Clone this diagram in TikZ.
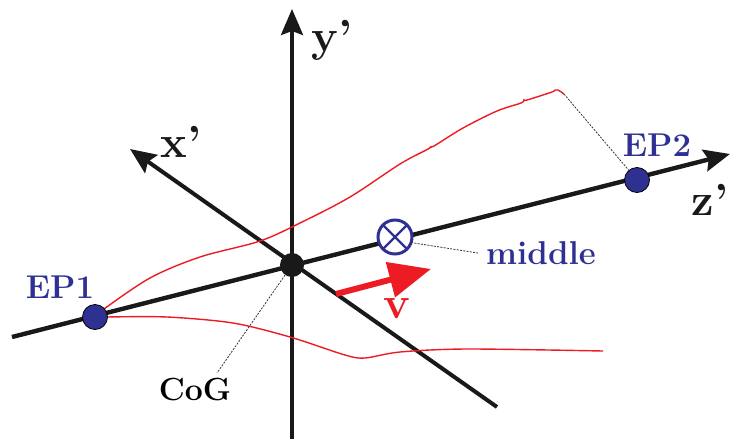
\documentclass[tikz,border=0pt]{standalone}
\usetikzlibrary{arrows.meta}
\definecolor{epblue}{HTML}{2E3192}
\definecolor{vred}{HTML}{ED1C24}
\tikzset{
  axis/.style={line width=4pt, draw=black!90},
  axtip/.style={-{Stealth[length=26pt,width=22pt,inset=4pt]}},
  redc/.style={draw=vred, line width=1.4pt},
  dotline/.style={draw=black!80, line width=0.8pt, dash pattern=on 2pt off 1.3pt},
  epdot/.style={circle, fill=epblue, draw=black, line width=0.8pt, minimum size=25pt, inner sep=0pt},
  cogdot/.style={circle, fill=black!90, minimum size=24pt, inner sep=0pt},
  midmark/.style={circle, draw=epblue, line width=3pt, minimum size=34pt, inner sep=0pt, outer sep=0pt, fill=white,
    path picture={\draw[epblue, line width=2.4pt]
      (path picture bounding box.center) ++(45:17pt) -- ++(225:34pt)
      (path picture bounding box.center) ++(135:17pt) -- ++(-45:34pt);}},
  bluelab/.style={text=epblue, font=\fontsize{33}{38}\selectfont\bfseries, inner sep=0pt},
  blacklab/.style={text=black, font=\fontsize{32}{38}\selectfont\bfseries, inner sep=0pt},
  axlab/.style={text=black!90, font=\fontsize{45}{50}\selectfont\bfseries, inner sep=0pt},
}
\begin{document}
\begin{tikzpicture}[x=1pt,y=-1pt]
\useasboundingbox (0,0) rectangle (730,439);
% axis end points
\coordinate (zs) at (12,337);
\coordinate (ze) at (730,154);
\coordinate (xs) at (497,407);
\coordinate (xe) at (130,149);
\coordinate (ys) at (292,439);
\coordinate (ye) at (292,9);
% axes
\draw[axis, line width=3.4pt, axtip] (ys) -- (ye);
\draw[axis, axtip] (xs) -- (xe);
\draw[axis, line width=4.4pt, axtip] (zs) -- (ze);
% red curves
\coordinate (ctop) at (564,94);
\draw[redc] plot[smooth, tension=0.55] coordinates {
  (104,309) (150,278) (200,257) (260,241) (302,222) (350,197) (400,164)
  (428,149) (431,146) (434,146) (463,128) (497,111) (521,103) (524,100)
  (527,100) (552,92) (555,90) (558,90) (ctop)};
\draw[redc] plot[smooth, tension=0.5] coordinates {
  (107,317) (167,317) (233,323) (290,337) (345,355) (365,358) (400,352)
  (467,349) (603,351)};
% nodes
\node[cogdot] (cog) at (292,265) {};
\node[epdot] (ep1) at (95,317) {};
\node[epdot] (ep2) at (637,180) {};
\node[midmark] (mid) at (395,237) {};
% velocity arrow
\coordinate (vs) at (336,294);
\coordinate (ve) at (431,269);
\draw[draw=vred, line width=6pt, -{Triangle[length=42pt,width=35pt]}] (vs) -- (ve);
% labels
\node[bluelab] (ep1l) at (60,287) {EP1};
\node[bluelab] (ep2l) at (657,145) {EP2};
\node[bluelab] (midl) at (541,253) {middle};
\node[blacklab] (cogl) at (195,390) {CoG};
\node[axlab, text=vred] (vl) at (397,309) {v};
\node[axlab] (xl) at (181,142) {x’};
\node[axlab] (yl) at (332,40) {y’};
\node[axlab] (zl) at (710,200) {z’};
% dotted connectors
\coordinate (cogend) at (217,373);
\draw[dotline] (cog) -- (cogend);
\draw[dotline] (mid.-19) -- ([xshift=-8pt]midl.west);
\draw[dotline] (ctop) -- (ep2);
\end{tikzpicture}
\end{document}
